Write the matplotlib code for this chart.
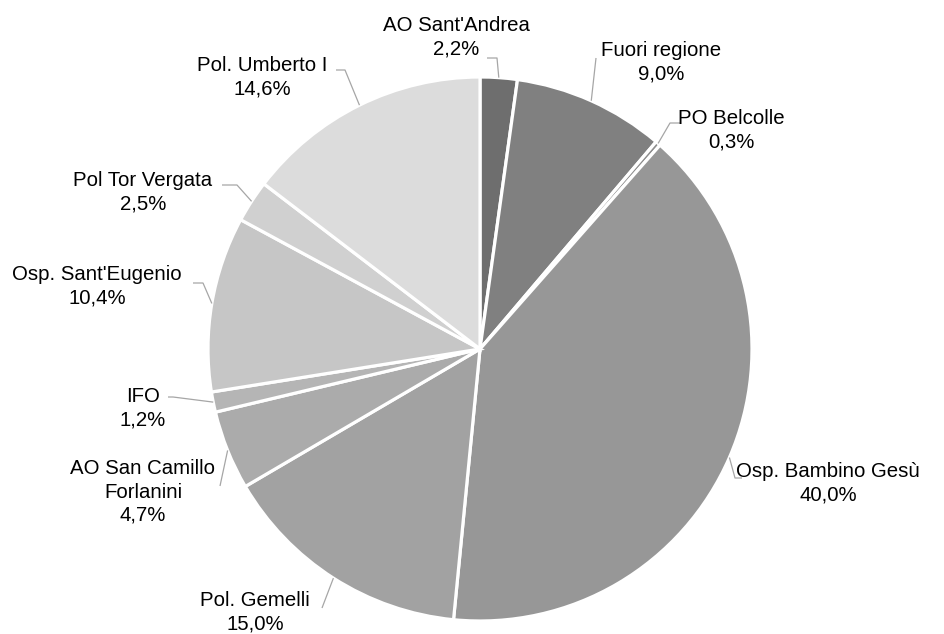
import matplotlib
matplotlib.use('Agg')
import matplotlib.pyplot as plt
import numpy as np

# slices, clockwise from 12 o'clock
labels = ["AO Sant'Andrea", 'Fuori regione', 'PO Belcolle', 'Osp. Bambino Gesù',
          'Pol. Gemelli', 'AO San Camillo\nForlanini', 'IFO', "Osp. Sant'Eugenio",
          'Pol Tor Vergata', 'Pol. Umberto I']
shares = [2.2, 9.0, 0.3, 40.0, 15.0, 4.7, 1.2, 10.4, 2.5, 14.6]
colors = ['#6e6e6e', '#808080', '#8c8c8c', '#979797', '#a2a2a2',
          '#ababab', '#b5b5b5', '#c6c6c6', '#d0d0d0', '#dcdcdc']

# label layout in pixel coords: text centre, then leader elbow / end
text_pos = [(456, 37), (661, 62), (731, 130), (828, 483), (255, 612),
            (143, 492), (143, 408), (97, 286), (143, 192), (262, 77)]
leader_pts = [[(497, 58), (487, 58)], [(596, 58)], [(670, 123), (681, 123)],
              [(735, 478), (742, 478)], [(322, 608)], [(220, 486)],
              [(173, 397), (168, 397)], [(203, 283), (193, 283)],
              [(237, 185), (222, 185)], [(345, 70), (336, 70)]]

W, H = 944, 634
CX, CY, R = 480, 349, 272

plt.rcParams['font.family'] = ['Liberation Sans', 'DejaVu Sans']
fig = plt.figure(figsize=(W / 100, H / 100), dpi=100)
ax = fig.add_axes([0, 0, 1, 1])

# y axis is inverted below: counterclock in data = clockwise on screen, 270 = top
wedges, _ = ax.pie(shares, colors=colors, startangle=270, counterclock=True,
                   center=(CX, CY), radius=R, frame=True,
                   wedgeprops=dict(edgecolor='white', linewidth=2.3))
ax.set_xlim(0, W)
ax.set_ylim(H, 0)   # y down, so pixel coords can be used directly
ax.set_aspect('equal')
ax.axis('off')

total = sum(shares)
cum = np.cumsum([0] + shares)
for i, (lab, v) in enumerate(zip(labels, shares)):
    mid = (cum[i] + v / 2) / total * 2 * np.pi
    sx = CX + R * np.sin(mid)
    sy = CY - R * np.cos(mid)
    pts = [(sx, sy)] + leader_pts[i]
    ax.plot([p[0] for p in pts], [p[1] for p in pts], color='#a6a6a6', lw=0.9,
            solid_capstyle='butt')
    pct = f'{v:.1f}'.replace('.', ',') + '%'
    tx, ty = text_pos[i]
    ax.text(tx, ty, lab + '\n' + pct, ha='center', va='center', fontsize=14.7,
            color='#000000', linespacing=1.28, multialignment='center')

fig.savefig('out.png', dpi=100)
